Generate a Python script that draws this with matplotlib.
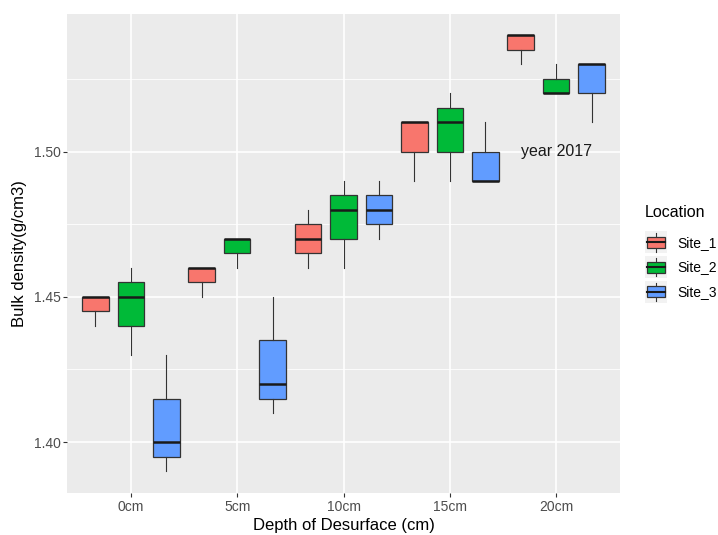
import matplotlib
matplotlib.use("Agg")
import matplotlib.pyplot as plt
from matplotlib.patches import Rectangle
from matplotlib.lines import Line2D
from matplotlib.legend_handler import HandlerBase
from matplotlib.ticker import FixedLocator

plt.rcParams['font.family'] = ['Liberation Sans', 'DejaVu Sans']

depths = ['0cm', '5cm', '10cm', '15cm', '20cm']
sites = ['Site_1', 'Site_2', 'Site_3']
colors = ['#F8766D', '#00BA38', '#619CFF']

site1_low = [1.44, 1.45, 1.46, 1.49, 1.53]
site1_q1 = [1.445, 1.455, 1.465, 1.50, 1.535]
site1_med = [1.45, 1.46, 1.47, 1.51, 1.54]
site1_q3 = [1.45, 1.46, 1.475, 1.51, 1.54]
site1_high = [1.45, 1.46, 1.48, 1.51, 1.54]

site2_low = [1.43, 1.46, 1.46, 1.49, 1.52]
site2_q1 = [1.44, 1.465, 1.47, 1.50, 1.52]
site2_med = [1.45, 1.47, 1.48, 1.51, 1.52]
site2_q3 = [1.455, 1.47, 1.485, 1.515, 1.525]
site2_high = [1.46, 1.47, 1.49, 1.52, 1.53]

site3_low = [1.39, 1.41, 1.47, 1.49, 1.51]
site3_q1 = [1.395, 1.415, 1.475, 1.49, 1.52]
site3_med = [1.40, 1.42, 1.48, 1.49, 1.53]
site3_q3 = [1.415, 1.435, 1.485, 1.50, 1.53]
site3_high = [1.43, 1.45, 1.49, 1.51, 1.53]

y_ticks = [1.40, 1.45, 1.50]
y_minor = [1.425, 1.475, 1.525]

series = [
    (site1_low, site1_q1, site1_med, site1_q3, site1_high),
    (site2_low, site2_q1, site2_med, site2_q3, site2_high),
    (site3_low, site3_q1, site3_med, site3_q3, site3_high),
]

fig = plt.figure(figsize=(7.18, 5.35), dpi=100)
ax = fig.add_axes([67/718, 1-493/535, (620-67)/718, (493-13.5)/535])
ax.set_facecolor('#EBEBEB')
for s in ax.spines.values():
    s.set_visible(False)

offsets = [-1/3, 0, 1/3]
edge = '#333333'
for si, (lo, q1, med, q3, hi) in enumerate(series):
    stats = []
    for i in range(len(depths)):
        stats.append(dict(whislo=lo[i], q1=q1[i], med=med[i], q3=q3[i], whishi=hi[i], fliers=[]))
    pos = [i + offsets[si] for i in range(len(depths))]
    ax.bxp(stats, positions=pos, widths=0.25, patch_artist=True, showcaps=False,
           showfliers=False, manage_ticks=False,
           boxprops=dict(facecolor=colors[si], edgecolor=edge, linewidth=0.9),
           whiskerprops=dict(color=edge, linewidth=0.8),
           medianprops=dict(color='#1A1A1A', linewidth=1.8, solid_capstyle='butt'),
           zorder=3)

ax.set_xlim(-0.6, len(depths) - 1 + 0.6)
ax.set_ylim(1.3825, 1.5475)
ax.set_xticks(range(len(depths)))
ax.set_xticklabels(depths)
ax.set_yticks(y_ticks)
ax.set_yticklabels([f'{v:.2f}' for v in y_ticks])
ax.yaxis.set_minor_locator(FixedLocator(y_minor))
ax.set_axisbelow(True)
ax.grid(which='major', color='white', linewidth=1.2)
ax.grid(which='minor', axis='y', color='white', linewidth=0.6)
ax.tick_params(which='major', length=2.7, width=0.8, color='#333333',
               labelsize=10, labelcolor='#4D4D4D', pad=2)
ax.tick_params(which='minor', length=0)

ax.set_xlabel('Depth of Desurface (cm)', fontsize=12, color='black', labelpad=3)
ax.set_ylabel('Bulk density(g/cm3)', fontsize=12, color='black', labelpad=5)

ax.text(4, 1.50, 'year 2017', fontsize=11.5, color='#1A1A1A', ha='center', va='center', zorder=4)


class BoxHandler(HandlerBase):
    def create_artists(self, legend, orig_handle, xdescent, ydescent, width, height, fontsize, trans):
        x0, y0 = -xdescent, -ydescent
        arts = []
        arts.append(Rectangle((x0, y0), width, height, facecolor='#F2F2F2', edgecolor='none', transform=trans))
        cx = x0 + width / 2
        arts.append(Line2D([cx, cx], [y0 + height * 0.08, y0 + height * 0.92], color=edge, lw=0.8, transform=trans))
        arts.append(Rectangle((x0 + width * 0.1, y0 + height * 0.25), width * 0.8, height * 0.5,
                              facecolor=orig_handle.get_facecolor(), edgecolor=edge, lw=0.9, transform=trans))
        arts.append(Line2D([x0 + width * 0.1, x0 + width * 0.9], [y0 + height / 2] * 2,
                           color='#1A1A1A', lw=1.5, transform=trans))
        return arts


handles = [Rectangle((0, 0), 1, 1, facecolor=c) for c in colors]
leg = fig.legend(handles, sites, title='Location', loc='center left',
                 bbox_to_anchor=(645/718, 1 - 254/535), frameon=False,
                 handler_map={Rectangle: BoxHandler()}, fontsize=10,
                 title_fontsize=11.5, handlelength=1.6, handleheight=2.05,
                 labelspacing=0.2, handletextpad=0.7, borderpad=0, borderaxespad=0,
                 alignment='left')
leg._legend_box.sep = 8

fig.savefig('out.png', dpi=100)
